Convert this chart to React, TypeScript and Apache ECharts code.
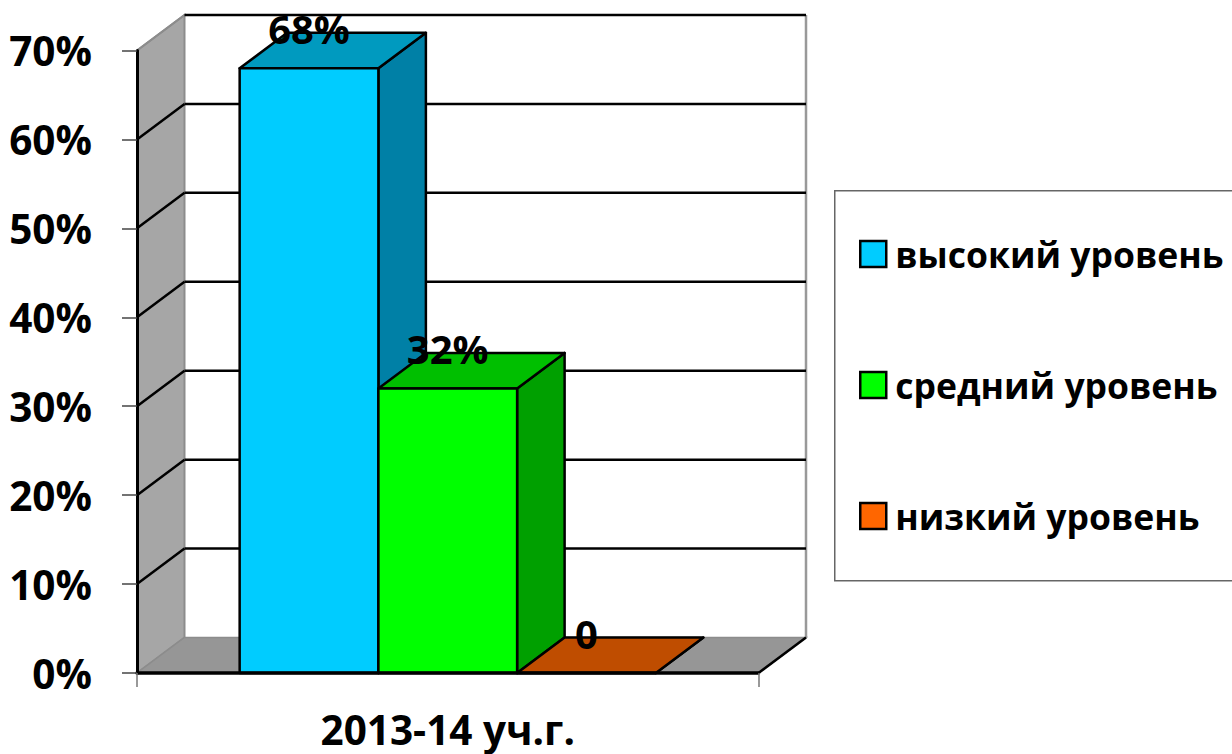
import React, { useEffect, useRef } from "react";
import * as echarts from "echarts";

const categories = ["2013-14 уч.г."];
const seriesNames = ["высокий уровень", "средний уровень", "низкий уровень"];
const seriesValues = [68, 32, 0];
const dataLabels = ["68%", "32%", "0"];
const frontColors = ["#00CCFF", "#00FF00", "#FF6600"];
const topColors = ["#009ABF", "#00BF00", "#BF4D00"];
const sideColors = ["#0080A6", "#00A000", "#A04000"];
const gridTicks = [10, 20, 30, 40, 50, 60, 70];

const FONT = "'Open Sans', 'Noto Sans', sans-serif";
const DX = 47.5;
const DY = -35.5;
const BAR_FRACTION = 1 / 4.48;

function renderWalls(_: any, api: any) {
  const half = api.size([1, 0])[0] / 2;
  const c0 = api.coord([0, 0]);
  const c70 = api.coord([0, 70]);
  const l = c0[0] - half;
  const r = c0[0] + half;
  const b = c0[1];
  const t = c70[1];
  const wallStroke = "#8C8C8C";
  const children: any[] = [
    { type: "polygon", shape: { points: [[l, b], [l + DX, b + DY], [l + DX, t + DY], [l, t]] }, style: { fill: "#A6A6A6", stroke: wallStroke, lineWidth: 2 } },
    { type: "polygon", shape: { points: [[l, b], [r, b], [r + DX, b + DY], [l + DX, b + DY]] }, style: { fill: "#969696", stroke: wallStroke, lineWidth: 1.5 } },
    { type: "line", shape: { x1: r + DX, y1: b + DY, x2: r + DX, y2: t + DY }, style: { stroke: "#999999", lineWidth: 2.5 } },
    { type: "line", shape: { x1: r, y1: b, x2: r + DX, y2: b + DY }, style: { stroke: "#000", lineWidth: 2.5 } },
  ];
  gridTicks.forEach((tick) => {
    const y = api.coord([0, tick])[1];
    if (tick !== 70) {
      children.push({ type: "line", shape: { x1: l, y1: y, x2: l + DX, y2: y + DY }, style: { stroke: "#000", lineWidth: 2.5 } });
    } else {
      children.push({ type: "line", shape: { x1: l, y1: y, x2: l + DX, y2: y + DY }, style: { stroke: wallStroke, lineWidth: 2 } });
    }
    children.push({ type: "line", shape: { x1: l + DX, y1: y + DY, x2: r + DX, y2: y + DY }, style: { stroke: "#000", lineWidth: 2.5 } });
  });
  return { type: "group", children };
}

function makeBarRenderer(i: number) {
  return (_: any, api: any) => {
    const band = api.size([1, 0])[0];
    const w = band * BAR_FRACTION;
    const c = api.coord([api.value(0), api.value(1)]);
    const base = api.coord([api.value(0), 0])[1];
    const x0 = c[0] + (i - 1.5) * w;
    const x1 = x0 + w;
    const y = c[1];
    const line = { stroke: "#000", lineWidth: 2.5, lineJoin: "round" };
    const children: any[] = [
      { type: "polygon", shape: { points: [[x1, y], [x1 + DX, y + DY], [x1 + DX, base + DY], [x1, base]] }, style: { fill: sideColors[i], ...line } },
      { type: "polygon", shape: { points: [[x0, y], [x1, y], [x1 + DX, y + DY], [x0 + DX, y + DY]] }, style: { fill: topColors[i], ...line } },
      { type: "polygon", shape: { points: [[x0, y], [x1, y], [x1, base], [x0, base]] }, style: { fill: frontColors[i], ...line } },
      {
        type: "text",
        style: { x: x0 + w / 2, y: y - 40, text: dataLabels[i], fill: "#000", font: `bold 40px ${FONT}`, align: "center", verticalAlign: "middle" },
      },
    ];
    return { type: "group", children };
  };
}

export default function App() {
  const ref = useRef<HTMLDivElement>(null);
  useEffect(() => {
    const chart = echarts.init(ref.current!, null, { renderer: "svg" });
    chart.setOption({
      animation: false,
      backgroundColor: "#fff",
      grid: { left: 137, top: 50.5, width: 621.5, height: 622.5 },
      xAxis: {
        type: "category",
        data: categories,
        z: 10,
        axisLine: { lineStyle: { color: "#000", width: 3.5 } },
        axisTick: { show: true, alignWithLabel: false, length: 14, lineStyle: { color: "#777", width: 1.5 } },
        axisLabel: { color: "#000", fontFamily: FONT, fontWeight: "bold", fontSize: 40.5, margin: 36, lineHeight: 40 },
      },
      yAxis: {
        type: "value",
        min: 0,
        max: 70,
        interval: 10,
        z: 10,
        splitLine: { show: false },
        axisLine: { show: true, lineStyle: { color: "#000", width: 3 } },
        axisTick: { show: true, length: 15, lineStyle: { color: "#444", width: 1.5 } },
        axisLabel: { color: "#000", fontFamily: FONT, fontWeight: "bold", fontSize: 40.5, margin: 45, padding: [6, 0, 0, 0], formatter: "{value}%" },
      },
      legend: {
        left: 859,
        top: 236,
        orient: "vertical",
        padding: 0,
        data: seriesNames.map((name) => ({ name, icon: "rect" })),
        itemWidth: 26,
        itemHeight: 26,
        itemGap: 95,
        inactiveColor: "#000",
        selectedMode: false,
        itemStyle: { borderColor: "#000", borderWidth: 2.5 },
        textStyle: { color: "#000", fontFamily: FONT, fontWeight: "bold", fontSize: 35.5, padding: [0, 0, 0, 4], lineHeight: 26 },
      },
      graphic: [
        { type: "rect", left: 834, top: 190, shape: { x: 0, y: 0, width: 420, height: 390 }, style: { fill: "#fff", stroke: "#666", lineWidth: 1.5 }, z: -1 },
      ],
      series: [
        { type: "custom", name: "walls", silent: true, z: 1, data: [[0, 0]], renderItem: renderWalls },
        ...seriesNames.map((name, i) => ({
          type: "custom",
          name,
          z: 2 + i,
          itemStyle: { color: frontColors[i] },
          data: [[0, seriesValues[i]]],
          encode: { x: 0, y: 1 },
          renderItem: makeBarRenderer(i),
        })),
      ],
    });
    return () => chart.dispose();
  }, []);
  return <div ref={ref} style={{ position: "fixed", left: 0, top: 0, width: 1232, height: 754 }} />;
}
